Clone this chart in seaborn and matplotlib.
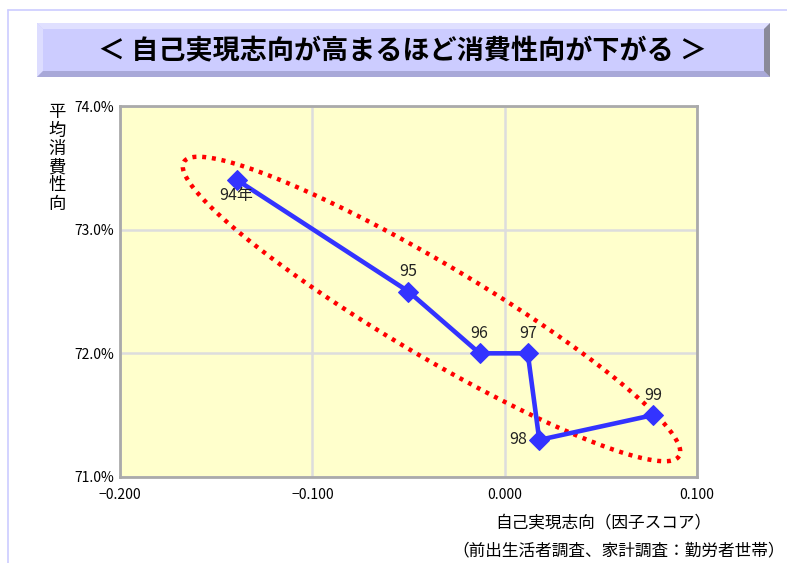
import numpy as np
import pandas as pd
import matplotlib
matplotlib.use("Agg")
import matplotlib.pyplot as plt
from matplotlib.patches import Rectangle, Polygon
from matplotlib.ticker import FuncFormatter
import seaborn as sns

# Data: self-actualization factor score vs. average propensity to consume
years = ["94年", "95", "96", "97", "98", "99"]
factor_score = [-0.139, -0.050, -0.013, 0.012, 0.018, 0.077]
propensity = [73.4, 72.5, 72.0, 72.0, 71.3, 71.5]
x_ticks = [-0.2, -0.1, 0.0, 0.1]
y_ticks = [71.0, 72.0, 73.0, 74.0]

sns.set_theme(style="white")
plt.rcParams["font.family"] = ["Noto Sans CJK JP", "DejaVu Sans"]

W, H = 787, 563
fig = plt.figure(figsize=(W / 100, H / 100), dpi=100)
fig.patch.set_facecolor("white")


def fx(px):
    return px / W


def fy(py):
    return 1 - py / H


# Thin outer frame
fig.add_artist(plt.Line2D([fx(8), fx(787)], [fy(10), fy(10)], color="#CCCCFF", lw=1.2))
fig.add_artist(plt.Line2D([fx(8), fx(8)], [fy(10), fy(563)], color="#CCCCFF", lw=1.2))

# Bevelled title plate
x0, x1, y0, y1, bv = 37, 770, 23, 77, 6
fig.add_artist(Rectangle((fx(x0), fy(y1)), fx(x1 - x0), (y1 - y0) / H,
                         facecolor="#CCCCFF", edgecolor="none"))
fig.add_artist(Polygon([(fx(x0), fy(y0)), (fx(x1), fy(y0)), (fx(x1 - bv), fy(y0 + bv)),
                        (fx(x0 + bv), fy(y0 + bv))], closed=True, facecolor="#E0E0FF", edgecolor="none"))
fig.add_artist(Polygon([(fx(x0), fy(y0)), (fx(x0 + bv), fy(y0 + bv)), (fx(x0 + bv), fy(y1 - bv)),
                        (fx(x0), fy(y1))], closed=True, facecolor="#DDDDFF", edgecolor="none"))
fig.add_artist(Polygon([(fx(x0), fy(y1)), (fx(x0 + bv), fy(y1 - bv)), (fx(x1 - bv), fy(y1 - bv)),
                        (fx(x1), fy(y1))], closed=True, facecolor="#A8A8D8", edgecolor="none"))
fig.add_artist(Polygon([(fx(x1), fy(y0)), (fx(x1), fy(y1)), (fx(x1 - bv), fy(y1 - bv)),
                        (fx(x1 - bv), fy(y0 + bv))], closed=True, facecolor="#8A8A9A", edgecolor="none"))
fig.text(fx(403), fy(51), "＜ 自己実現志向が高まるほど消費性向が下がる ＞",
         ha="center", va="center", fontsize=19.5, fontweight="bold", color="black")

# Plot area
ax = fig.add_axes([fx(120), fy(477), fx(697 - 120), (477 - 106) / H])
ax.set_facecolor("#FFFFCC")
ax.set_xlim(-0.2, 0.1)
ax.set_ylim(71.0, 74.0)
ax.set_xticks(x_ticks)
ax.set_yticks(y_ticks)
ax.grid(True, color="#DDDDDD", lw=1.8)
ax.set_axisbelow(True)
for s in ax.spines.values():
    s.set_color("#AAAAAA")
    s.set_linewidth(2)
ax.tick_params(axis="both", length=0, labelsize=10, colors="black")
ax.tick_params(axis="x", pad=8)
ax.tick_params(axis="y", pad=4)
ax.xaxis.set_major_formatter(FuncFormatter(lambda v, p: f"{v:.3f}".replace("-", "\u2212")))
ax.yaxis.set_major_formatter(FuncFormatter(lambda v, p: f"{v:.1f}%"))

df = pd.DataFrame({"year": years, "score": factor_score, "apc": propensity})
sns.lineplot(data=df, x="score", y="apc", sort=False, ax=ax, color="#3333FF", lw=3.3,
             marker="D", markersize=10, markeredgecolor="#3333FF", zorder=4)
ax.set_xlabel("")
ax.set_ylabel("")

# Dotted ellipse enclosing the trend, drawn in axes-pixel space
aw, ah = 697 - 120, 477 - 106
cx, cy, a, b, ang = 431.5 - 120, 309 - 106, 288, 46, np.deg2rad(30.7)
t = np.linspace(0, 2 * np.pi, 400)
ex = cx + a * np.cos(t) * np.cos(ang) - b * np.sin(t) * np.sin(ang)
ey = cy + a * np.cos(t) * np.sin(ang) + b * np.sin(t) * np.cos(ang)
ax.plot(ex / aw, 1 - ey / ah, transform=ax.transAxes, color="red", lw=3.2,
        linestyle=(0, (0.9, 1.3)), zorder=3)

# Year labels
offsets = {"94年": (-1, -5, "center", "top"), "95": (0, 8, "center", "bottom"),
           "96": (0, 8, "center", "bottom"), "97": (0, 8, "center", "bottom"),
           "98": (-9, 0, "right", "center"), "99": (0, 8, "center", "bottom")}
for yr, xv, yv in zip(years, factor_score, propensity):
    dx, dy, ha, va = offsets[yr]
    ax.annotate(yr, (xv, yv), xytext=(dx, dy), textcoords="offset points",
                ha=ha, va=va, fontsize=11.5, color="#222222", zorder=5)

# Axis titles
fig.text(fx(57), fy(158), "平\n均\n消\n費\n性\n向", ha="center", va="center",
         fontsize=12.5, linespacing=1.02, color="black")
fig.text(fx(603), fy(523), "自己実現志向（因子スコア）", ha="center", va="center",
         fontsize=12, color="black")
fig.text(fx(452), fy(551), "（前出生活者調査、家計調査：勤労者世帯）", ha="left", va="center",
         fontsize=12, color="black")

fig.savefig("out.png", dpi=100, facecolor="white")
